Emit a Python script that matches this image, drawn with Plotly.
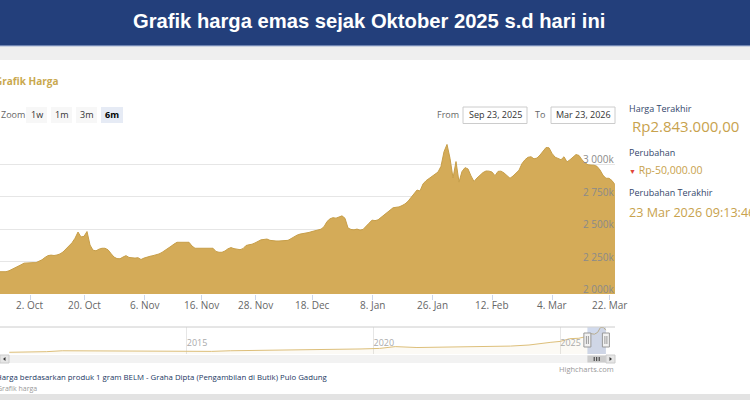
import plotly.graph_objects as go

W, H = 750, 400

# ---------------- data ----------------
# Daily gold price (thousand Rp), 23 Sep 2025 .. 23 Mar 2026 (ordinal index)
price_k = [
    2172, 2172, 2172, 2179, 2189, 2199, 2210, 2225, 2238, 2241,
    2242, 2242, 2242, 2251, 2264, 2282, 2296, 2300, 2297, 2301,
    2309, 2324, 2347, 2370, 2395, 2430, 2478, 2440, 2445, 2482,
    2378, 2338, 2333, 2346, 2353, 2353, 2341, 2312, 2285, 2273,
    2272, 2285, 2296, 2282, 2278, 2277, 2280, 2266, 2277, 2286,
    2291, 2296, 2302, 2309, 2321, 2335, 2351, 2368, 2385, 2399,
    2399, 2399, 2399, 2399, 2370, 2353, 2353, 2353, 2353, 2353,
    2353, 2353, 2328, 2322, 2322, 2332, 2349, 2358, 2350, 2345,
    2342, 2350, 2374, 2380, 2384, 2394, 2407, 2418, 2421, 2424,
    2414, 2409, 2409, 2409, 2409, 2409, 2414, 2427, 2441, 2454,
    2462, 2465, 2468, 2475, 2482, 2488, 2492, 2500, 2519, 2559,
    2580, 2589, 2585, 2593, 2603, 2584, 2509, 2498, 2495, 2501,
    2493, 2498, 2519, 2546, 2570, 2566, 2572, 2592, 2612, 2632,
    2648, 2665, 2669, 2672, 2682, 2695, 2715, 2744, 2775, 2802,
    2795, 2849, 2874, 2891, 2907, 2918, 2941, 2985, 3098, 3154,
    3047, 2895, 3022, 2864, 2945, 2975, 2965, 2911, 2868, 2895,
    2918, 2937, 2949, 2948, 2941, 2913, 2946, 2948, 2934, 2914,
    2893, 2910, 2930, 2955, 3006, 3036, 3055, 3059, 3043, 3049,
    3072, 3099, 3130, 3128, 3085, 3056, 3048, 3036, 3059, 3019,
    3036, 3057, 3076, 3069, 3035, 3012, 2997, 2995, 2994, 2985,
    2957, 2916, 2893, 2893, 2875, 2843,
]
x_idx = list(range(len(price_k)))

tick_idx = [10, 28, 48, 67, 85, 104, 124, 144, 164, 184, 203]
tick_labels = ["2. Oct", "20. Oct", "6. Nov", "16. Nov", "28. Nov", "18. Dec",
               "8. Jan", "26. Jan", "12. Feb", "4. Mar", "22. Mar"]

y_ticks = [2000, 2250, 2500, 2750, 3000, 3250]
y_tick_labels = ["2 000k", "2 250k", "2 500k", "2 750k", "3 000k", ""]

# Navigator (full history, thousand Rp)
nav_dates = [
    "2010-04-01", "2010-10-01", "2011-04-01", "2011-09-01", "2012-03-01",
    "2012-09-01", "2013-03-01", "2013-09-01", "2014-03-01", "2014-09-01",
    "2015-03-01", "2015-09-01", "2016-03-01", "2016-09-01", "2017-03-01",
    "2017-09-01", "2018-03-01", "2018-09-01", "2019-03-01", "2019-09-01",
    "2020-03-01", "2020-08-01", "2021-03-01", "2021-09-01", "2022-03-01",
    "2022-09-01", "2023-03-01", "2023-09-01", "2024-03-01", "2024-06-01",
    "2024-10-01", "2025-01-01", "2025-04-01", "2025-07-01", "2025-09-23",
    "2025-10-17", "2025-12-01", "2026-01-01", "2026-01-29", "2026-03-02",
    "2026-03-23",
]
nav_price_k = [
    390, 420, 460, 560, 550, 560, 520, 480, 500, 500,
    510, 490, 560, 590, 590, 610, 640, 630, 660, 760,
    820, 1020, 920, 940, 980, 960, 1050, 1080, 1200, 1350,
    1500, 1600, 1900, 1950, 2170, 2480, 2400, 2600, 3150, 3130,
    2843,
]
nav_years = ["2015-01-01", "2020-01-01", "2025-01-01"]
nav_year_labels = ["2015", "2020", "2025"]
sel_start, sel_end = "2025-09-23", "2026-03-23"

GOLD_FILL = "#D4AB58"
GOLD_LINE = "#C79E48"
GOLD_TEXT = "#C8A24D"
FONT = "Open Sans"


def X(px):
    return px / W


def Y(py):
    return 1 - py / H


fig = go.Figure()
fig.add_trace(go.Scatter(
    x=x_idx, y=price_k, mode="lines", line=dict(color=GOLD_LINE, width=1),
    fill="tozeroy", fillcolor=GOLD_FILL, xaxis="x", yaxis="y",
    hoverinfo="skip", showlegend=False))
fig.add_trace(go.Scatter(
    x=nav_dates, y=nav_price_k, mode="lines", line=dict(color="#DDBF7A", width=1),
    fill="tozeroy", fillcolor="rgba(212,171,88,0.06)", xaxis="x2", yaxis="y2",
    hoverinfo="skip", showlegend=False))

shapes = []


def rect(x0, y0, x1, y1, fill, line=None, lw=0, layer="below", **kw):
    d = dict(type="rect", xref="paper", yref="paper", x0=X(x0), x1=X(x1),
             y0=Y(y1), y1=Y(y0), fillcolor=fill,
             line=dict(color=line or fill, width=lw), layer=layer)
    d.update(kw)
    shapes.append(d)


# page frame
rect(0, 0, 750, 45.5, "#233F7B")
rect(0, 45.5, 750, 46.5, "#4E6BA6")
rect(0, 46.5, 750, 60, "#EFEFEF")
rect(0, 394, 750, 400, "#E3E3E3")

# zoom buttons
for x0, x1, c in [(26, 47, "#F7F7F7"), (51, 72, "#F7F7F7"), (76, 97, "#F7F7F7"), (101, 123, "#E6EBF5")]:
    rect(x0, 107, x1, 123, c)
# date inputs
rect(463, 107, 527, 123.5, "#FFFFFF", "#CCCCCC", 1)
rect(551, 107, 615, 123.5, "#FFFFFF", "#CCCCCC", 1)

# navigator top outline
shapes.append(dict(type="line", xref="paper", yref="paper", x0=X(0), x1=X(615),
                   y0=Y(327), y1=Y(327), line=dict(color="#CCCCCC", width=1), layer="above"))
# scrollbar
rect(0, 355, 615, 363, "#F2F2F2", layer="above")
rect(0, 355, 9, 363, "#E6E6E6", "#CCCCCC", 1, layer="above")
rect(606, 355, 615, 363, "#E6E6E6", "#CCCCCC", 1, layer="above")
shapes.append(dict(type="path", xref="paper", yref="paper",
                   path=f"M {X(5.5)} {Y(357)} L {X(3)} {Y(359)} L {X(5.5)} {Y(361)} Z",
                   fillcolor="#333333", line=dict(width=0), layer="above"))
shapes.append(dict(type="path", xref="paper", yref="paper",
                   path=f"M {X(609.5)} {Y(357)} L {X(612)} {Y(359)} L {X(609.5)} {Y(361)} Z",
                   fillcolor="#333333", line=dict(width=0), layer="above"))
# scrollbar thumb bound to the selected range
shapes.append(dict(type="rect", xref="x2", yref="paper", x0=sel_start, x1=sel_end,
                   y0=Y(362.5), y1=Y(355.5), fillcolor="#CCCCCC",
                   line=dict(color="#CCCCCC", width=0), layer="above"))
for dx in (-2.5, 0, 2.5):
    shapes.append(dict(type="line", xref="x2", yref="paper", xsizemode="pixel",
                       xanchor="2025-12-23", x0=dx, x1=dx, y0=Y(361), y1=Y(357),
                       line=dict(color="#333333", width=1), layer="above"))
# navigator mask
shapes.append(dict(type="rect", xref="x2", yref="paper", x0=sel_start, x1=sel_end,
                   y0=Y(354), y1=Y(327.5), fillcolor="rgba(102,133,194,0.3)",
                   line=dict(width=0), layer="above"))
# handles
for anchor in (sel_start, sel_end):
    shapes.append(dict(type="rect", xref="x2", yref="paper", xsizemode="pixel",
                       xanchor=anchor, x0=-3.5, x1=3.5, y0=Y(347), y1=Y(333),
                       fillcolor="#F2F2F2", line=dict(color="#999999", width=1), layer="above"))
    for dx in (-1, 1):
        shapes.append(dict(type="line", xref="x2", yref="paper", xsizemode="pixel",
                           xanchor=anchor, x0=dx, x1=dx, y0=Y(344), y1=Y(336),
                           line=dict(color="#999999", width=1), layer="above"))

ann = []


def text(px, py, s, size, color, anchor="left", weight="normal", family=FONT):
    ann.append(dict(x=X(px), y=Y(py), xref="paper", yref="paper", text=s,
                    showarrow=False, xanchor=anchor, yanchor="middle",
                    font=dict(size=size, color=color, family=family, weight=weight)))


# main x-axis labels (positioned on the data axis)
for ti, tl in zip(tick_idx, tick_labels):
    ann.append(dict(x=ti, y=Y(305), xref="x", yref="paper", text=tl, showarrow=False,
                    xanchor="center", yanchor="middle",
                    font=dict(size=10, color="#666666", family=FONT)))
# main y-axis labels (inside, right aligned, just above each grid line)
for tv, tl in zip(y_ticks, y_tick_labels):
    if tl:
        ann.append(dict(x=X(616), y=tv, xref="paper", yref="y", text=tl, showarrow=False,
                        xanchor="right", yanchor="middle", yshift=5,
                        font=dict(size=10, color="#8A8A8A", family=FONT)))

text(369, 21, "Grafik harga emas sejak Oktober 2025 s.d hari ini", 20.2, "#FFFFFF",
     anchor="center", weight="bold", family="Liberation Sans, Arial")
text(-7, 81, "Grafik Harga", 10, "#C9A84E", weight="bold")
text(-1, 115, "Zoom", 9, "#666666")
for cx, s in [(36.5, "1w"), (61.5, "1m"), (86.5, "3m")]:
    text(cx, 115, s, 9, "#333333", anchor="center")
text(112, 115, "6m", 9, "#000000", anchor="center", weight="bold")
text(435, 115, "From", 9, "#666666")
text(533, 115, "To", 9, "#666666")
text(495, 115, "Sep 23, 2025", 9, "#333333", anchor="center")
text(583, 115, "Mar 23, 2026", 9, "#333333", anchor="center")

text(627, 108, "Harga Terakhir", 9, "#34476B")
text(630, 126, "Rp2.843.000,00", 15, GOLD_TEXT)
text(627, 152, "Perubahan", 9, "#34476B")
text(627, 170, "<span style='color:#E0453A;font-size:7px'>▼</span> Rp-50,000.00", 10.5, GOLD_TEXT)
text(627, 193, "Perubahan Terakhir", 9, "#34476B")
text(627, 212, "23 Mar 2026 09:13:46", 12.6, GOLD_TEXT)

text(616, 369, "Highcharts.com", 7.5, "#999999", anchor="right")
text(-6, 377, "Harga berdasarkan produk 1 gram BELM - Graha Dipta (Pengambilan di Butik) Pulo Gadung",
     7.8, "#22375F")
text(-5, 388, "Grafik harga", 7, "#999999")

fig.update_layout(
    width=W, height=H, autosize=False,
    margin=dict(l=0, r=0, t=0, b=0, pad=0, autoexpand=False),
    paper_bgcolor="#FFFFFF", plot_bgcolor="rgba(0,0,0,0)",
    font=dict(family=FONT),
    showlegend=False,
    xaxis=dict(domain=[0, X(615)], range=[0, len(price_k) - 1], anchor="y",
               tickmode="array", tickvals=tick_idx, showticklabels=False,
               ticks="outside", ticklen=5, tickcolor="#CCD6EB", tickwidth=1,
               automargin=False, showgrid=False, zeroline=False, showline=False),
    yaxis=dict(domain=[Y(294), Y(132)], range=[2000, 3250], anchor="x", side="right",
               tickmode="array", tickvals=y_ticks, showticklabels=False, ticks="",
               automargin=False, showgrid=True, gridcolor="#E6E6E6", gridwidth=1,
               zeroline=False, showline=False),
    xaxis2=dict(domain=[0, X(615)], range=["2009-12-31", "2026-06-20"], type="date",
                anchor="y2", tickmode="array", tickvals=nav_years, ticktext=nav_year_labels,
                ticklabelposition="inside right", ticks="", automargin=False,
                showgrid=True, gridcolor="#E6E6E6", zeroline=False, showline=False,
                tickfont=dict(size=9, color="#AAAAAA", family=FONT)),
    yaxis2=dict(domain=[Y(354), Y(327)], range=[200, 3200], anchor="x2",
                visible=False, showgrid=False, zeroline=False, automargin=False),
    shapes=shapes,
    annotations=ann,
)

fig.write_html("out.html", config={"displayModeBar": False},
               post_script="document.body.style.margin='0px';")
